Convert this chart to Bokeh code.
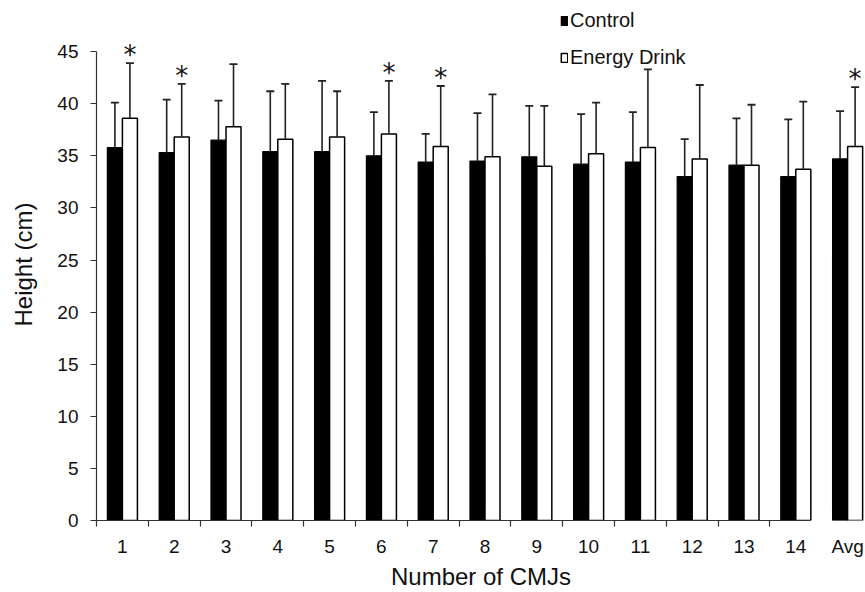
import numpy as np
from bokeh.plotting import figure
from bokeh.models import (ColumnDataSource, FixedTicker, LinearAxis, Legend,
                          LegendItem, Range1d)
from bokeh.core.properties import value
from bokeh.embed import file_html
from bokeh.resources import INLINE

# ---- data ----
categories = ["1", "2", "3", "4", "5", "6", "7", "8", "9", "10", "11", "12", "13", "14", "Avg"]
control = [35.8, 35.3, 36.5, 35.4, 35.4, 35.0, 34.4, 34.5, 34.9, 34.2, 34.4, 33.0, 34.1, 33.0, 34.7]
control_sd = [4.3, 5.1, 3.8, 5.8, 6.8, 4.2, 2.7, 4.6, 4.9, 4.8, 4.8, 3.6, 4.5, 5.5, 4.6]
energy = [38.6, 36.8, 37.8, 36.6, 36.8, 37.1, 35.9, 34.9, 34.0, 35.2, 35.8, 34.7, 34.1, 33.7, 35.9]
energy_sd = [5.3, 5.1, 6.0, 5.3, 4.4, 5.1, 5.8, 6.0, 5.8, 4.9, 7.5, 7.1, 5.8, 6.5, 5.7]
significant = [True, True, False, False, False, True, True, False, False, False,
               False, False, False, False, True]
y_ticks = [0, 5, 10, 15, 20, 25, 30, 35, 40, 45]
series_names = ["Control", "Energy Drink"]

FONT = "Liberation Sans"
TEXT = "#111111"
AXIS = "#333333"

n = len(categories)
n_main = n - 1  # the "Avg" group sits apart from the axis line
xs = np.arange(1, n + 1, dtype=float)
bar_w = 0.29
px_per_cat = 51.8
frame_w = 769
frame_h = 512

x_ctrl = xs - bar_w / 2
x_en = xs + bar_w / 2
c_arr = np.array(control)
e_arr = np.array(energy)
c_top = c_arr + np.array(control_sd)
e_top = e_arr + np.array(energy_sd)

src_c = ColumnDataSource(dict(x=x_ctrl, top=c_arr, up=c_top))
src_e = ColumnDataSource(dict(x=x_en, top=e_arr, up=e_top))
sig_idx = [i for i, s in enumerate(significant) if s]
src_sig = ColumnDataSource(dict(x=x_en[sig_idx], y=e_top[sig_idx], t=["*"] * len(sig_idx)))

p = figure(frame_width=frame_w, frame_height=frame_h,
           x_range=Range1d(0.5, 0.5 + frame_w / px_per_cat),
           y_range=Range1d(0, 49.14),
           output_backend="svg", toolbar_location=None,
           min_border_left=96, min_border_right=0, min_border_top=8, min_border_bottom=72,
           background_fill_color="white", border_fill_color="white")
p.outline_line_color = None
p.xgrid.grid_line_color = None
p.ygrid.grid_line_color = None

# bars
r_c = p.vbar(x="x", top="top", width=bar_w, source=src_c,
             fill_color="black", line_color="black", line_width=1.2)
r_e = p.vbar(x="x", top="top", width=bar_w, source=src_e,
             fill_color="white", line_color="black", line_width=1.5)

# error bars (upper only) with caps
for src in (src_c, src_e):
    p.segment(x0="x", y0="top", x1="x", y1="up", source=src, line_color="#222222", line_width=1.6)
    p.scatter(x="x", y="up", source=src, marker="dash", size=8, line_color="#222222", line_width=1.8)

# significance asterisks
p.text(x="x", y="y", text="t", source=src_sig, text_align="center",
       text_baseline="middle", y_offset=-8,
       text_font=value("DejaVu Sans"), text_font_size="26px", text_color=TEXT)

# ---- x axis: line + boundary ticks (main axis, stops after group 14) ----
xa = p.xaxis[0]
xa.ticker = FixedTicker(ticks=[], minor_ticks=[i + 0.5 for i in range(n_main)])
xa.bounds = (0.5, n_main + bar_w)
xa.axis_line_color = AXIS
xa.axis_line_width = 1.2
xa.major_tick_out = 0
xa.major_tick_in = 0
xa.minor_tick_out = 6
xa.minor_tick_in = 0
xa.minor_tick_line_color = AXIS
xa.minor_tick_line_width = 1.2
xa.major_label_standoff = 0

# ---- x axis: category labels (all groups) ----
xb = LinearAxis(ticker=FixedTicker(ticks=list(xs)),
                major_label_overrides={float(x): c for x, c in zip(xs, categories)},
                axis_line_color=None, major_tick_line_color=None, minor_tick_line_color=None,
                major_tick_out=0, major_tick_in=0, minor_tick_out=0, minor_tick_in=0,
                major_label_standoff=9,
                major_label_text_font=FONT, major_label_text_font_size="19px",
                major_label_text_color=TEXT,
                axis_label="Number of CMJs", axis_label_standoff=3,
                axis_label_text_font=FONT, axis_label_text_font_size="24px",
                axis_label_text_font_style="normal", axis_label_text_color=TEXT)
p.add_layout(xb, "below")

# ---- y axis ----
ya = p.yaxis[0]
ya.ticker = FixedTicker(ticks=y_ticks)
ya.bounds = (y_ticks[0], y_ticks[-1])
ya.axis_line_color = AXIS
ya.axis_line_width = 1.2
ya.major_tick_line_color = AXIS
ya.major_tick_line_width = 1.2
ya.major_tick_out = 6
ya.major_tick_in = 0
ya.minor_tick_line_color = None
ya.major_label_standoff = 12
ya.major_label_text_font = FONT
ya.major_label_text_font_size = "19px"
ya.major_label_text_color = TEXT
ya.axis_label = "Height (cm)"
ya.axis_label_standoff = 17
ya.axis_label_text_font = FONT
ya.axis_label_text_font_size = "24px"
ya.axis_label_text_font_style = "normal"
ya.axis_label_text_color = TEXT

# ---- legend ----
legend = Legend(items=[LegendItem(label=series_names[0], renderers=[r_c]),
                       LegendItem(label=series_names[1], renderers=[r_e])],
                location=(464, frame_h - 61), orientation="vertical",
                padding=0, margin=0, spacing=13,
                glyph_width=8, glyph_height=11, label_standoff=2, label_height=24,
                border_line_color=None, background_fill_alpha=0,
                label_text_font=FONT, label_text_font_size="20px", label_text_color=TEXT)
p.add_layout(legend)

open("out.html", "w").write(file_html(p, INLINE))
